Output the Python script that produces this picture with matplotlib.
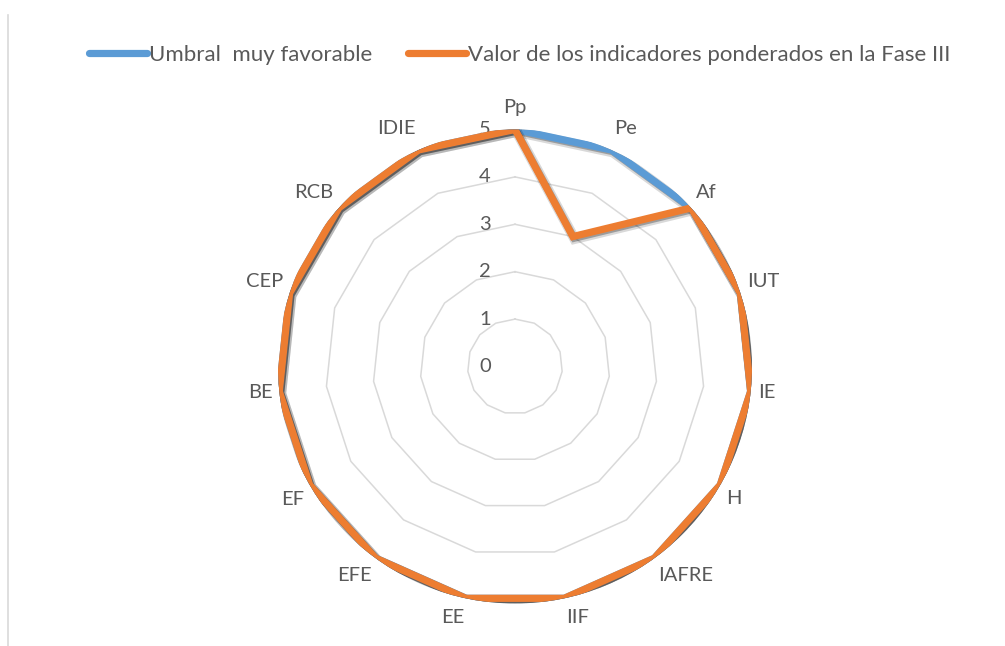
import numpy as np
import matplotlib.pyplot as plt
import matplotlib.patheffects as pe
from matplotlib.lines import Line2D
from matplotlib.transforms import ScaledTranslation

categories = ['Pp', 'Pe', 'Af', 'IUT', 'IE', 'H', 'IAFRE', 'IIF', 'EE',
              'EFE', 'EF', 'BE', 'CEP', 'RCB', 'IDIE']
umbral = [5, 5, 5, 5, 5, 5, 5, 5, 5, 5, 5, 5, 5, 5, 5]
fase3 = [5, 3, 5, 5, 5, 5, 5, 5, 5, 5, 5, 5, 5, 5, 5]
rticks = [0, 1, 2, 3, 4, 5]
series_names = ['Umbral  muy favorable',
                'Valor de los indicadores ponderados en la Fase III']

plt.rcParams['font.family'] = ['Lato', 'DejaVu Sans']
txt_col = '#595959'
blue = '#5B9BD5'
orange = '#ED7D31'
fs = 14.5

W, H = 1005, 646
fig = plt.figure(figsize=(W / 100, H / 100), dpi=100)

# center and radius of the radar, in pixels
cx, cy, rad = 515, 366.5, 237
ax = fig.add_axes([(cx - rad) / W, (H - cy - rad) / H, 2 * rad / W, 2 * rad / H],
                  projection='polar')
ax.set_theta_zero_location('N')
ax.set_theta_direction(-1)
ax.set_ylim(0, 5)
ax.grid(False)
ax.set_xticks([])
ax.set_yticks([])
ax.spines['polar'].set_visible(False)
ax.patch.set_visible(False)

n = len(categories)
theta = np.arange(n) * 2 * np.pi / n
th = np.append(theta, theta[0])

# ring gridlines
for r in rticks[1:]:
    ax.plot(th, [r] * (n + 1), color='#D9D9D9', lw=1.1, zorder=1)

shadow = [pe.SimpleLineShadow(offset=(1.2, -1.6), shadow_color='black', alpha=0.15,
                              linewidth=7.5),
          pe.SimpleLineShadow(offset=(1.0, -1.2), shadow_color='black', alpha=0.28),
          pe.Normal()]
ax.plot(th, umbral + umbral[:1], color=blue, lw=5.2, zorder=3,
        solid_joinstyle='miter', path_effects=shadow)
ax.plot(th, fase3 + fase3[:1], color=orange, lw=5.2, zorder=4,
        solid_joinstyle='miter', path_effects=shadow)

# radial tick labels, left of the vertical axis
off = ScaledTranslation(-0.30, 0, fig.dpi_scale_trans)
for r in rticks:
    ax.text(0, r, str(r), transform=ax.transData + off, ha='center', va='center',
            fontsize=fs, color=txt_col)

# category labels
for t, lab in zip(theta, categories):
    s, c = np.sin(t), np.cos(t)
    ha = 'left' if s > 0.1 else ('right' if s < -0.1 else 'center')
    va = 'bottom' if c > 0.3 else ('top' if c < -0.3 else 'center')
    o = ScaledTranslation(0.07 * s, 0.14 * c if c > 0.9 else 0.11 * c,
                          fig.dpi_scale_trans)
    ax.text(t, 5, lab, transform=ax.transData + o, ha=ha, va=va,
            fontsize=fs, color=txt_col)

handles = [Line2D([], [], color=blue, lw=5.2, solid_capstyle='round'),
           Line2D([], [], color=orange, lw=5.2, solid_capstyle='round')]
fig.legend(handles, series_names, loc='center', bbox_to_anchor=(0.517, 0.915),
           ncol=2, frameon=False, fontsize=16, labelcolor=txt_col,
           handlelength=2.6, handletextpad=0.1, columnspacing=1.6)

# left border of the chart area
fig.add_artist(Line2D([8 / W, 8 / W], [0, 1 - 15 / H], color='#D9D9D9', lw=1.2))

fig.savefig('out.png', dpi=100)
